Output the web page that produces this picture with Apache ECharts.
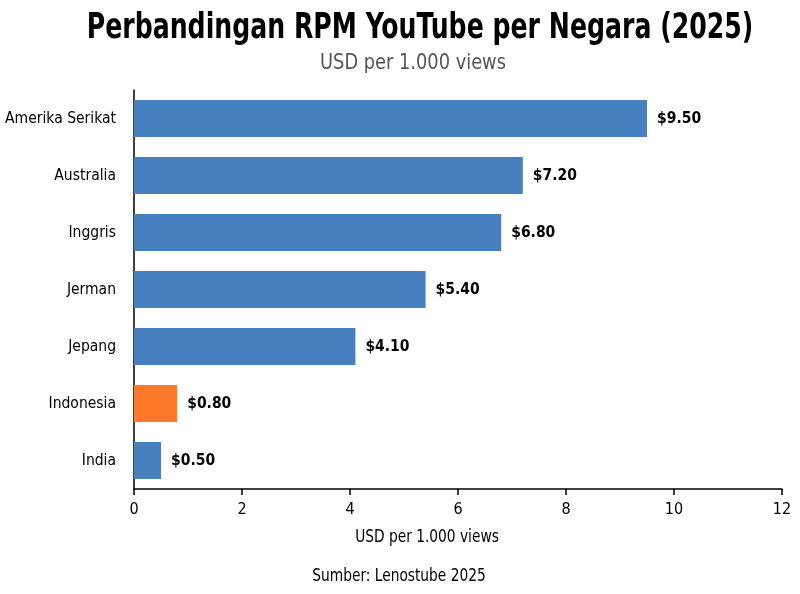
<!DOCTYPE html>
<html><head><meta charset="utf-8">
<script src="https://cdn.jsdelivr.net/npm/echarts@6/dist/echarts.min.js"></script>
<style>html,body{margin:0;padding:0;background:#fff}#c{width:800px;height:594px}</style>
</head><body><div id="c"></div>
<script>
const categories = ["Amerika Serikat","Australia","Inggris","Jerman","Jepang","Indonesia","India"];
const rpmValues = [9.5, 7.2, 6.8, 5.4, 4.1, 0.8, 0.5];
const highlight = "Indonesia";
const xTicks = [0, 2, 4, 6, 8, 10, 12];
const FONT = "'DejaVu Sans Condensed', 'Liberation Sans Narrow', sans-serif";

const chart = echarts.init(document.getElementById('c'), null, {renderer:'canvas'});
chart.setOption({
  backgroundColor: '#fff',
  animation: false,
  graphic: [
    {type: 'text', x: 420, y: 29, scaleX: 0.8, scaleY: 1,
     style: {text: 'Perbandingan RPM YouTube per Negara (2025)', x: 0, y: 0,
       align: 'center', verticalAlign: 'middle',
       font: "bold 35px " + FONT, fill: '#000'}},
    {type: 'text', x: 413, y: 63, scaleX: 0.9, scaleY: 1,
     style: {text: 'USD per 1.000 views', x: 0, y: 0, align: 'center', verticalAlign: 'middle',
       font: "normal 22px " + FONT, fill: '#555'}},
    {type: 'text', x: 399, y: 577, scaleX: 0.9, scaleY: 1,
     style: {text: 'Sumber: Lenostube 2025', x: 0, y: 0, align: 'center', verticalAlign: 'middle',
       font: "normal 17px " + FONT, fill: '#000'}},
    {type: 'text', x: 427, y: 538, scaleX: 0.9, scaleY: 1,
     style: {text: 'USD per 1.000 views', x: 0, y: 0, align: 'center', verticalAlign: 'middle',
       font: "normal 17px " + FONT, fill: '#000'}}
  ],
  grid: {left: 134, right: 18, top: 90, bottom: 105, outerBoundsMode: 'none', containLabel: false},
  xAxis: {
    type: 'value', min: xTicks[0], max: xTicks[xTicks.length-1], interval: 2,
    axisLine: {show: true, lineStyle: {color: '#000', width: 1.5}},
    axisTick: {show: true, length: 6, lineStyle: {color: '#000', width: 1.5}},
    axisLabel: {fontFamily: FONT, fontSize: 16, color: '#000', margin: 13},
    splitLine: {show: false}
  },
  yAxis: {
    type: 'category', data: categories, inverse: true,
    axisLine: {show: true, lineStyle: {color: '#000', width: 1.5}},
    axisTick: {show: false},
    axisLabel: {fontFamily: FONT, fontSize: 15.5, color: '#000', margin: 18}
  },
  series: [{
    type: 'bar', barWidth: '65%',
    data: rpmValues.map((v, i) => ({
      value: v,
      itemStyle: {color: categories[i] === highlight ? '#FE7A2A' : '#4680BE'}
    })),
    label: {show: true, position: 'right', distance: 10,
      formatter: p => '$' + p.value.toFixed(2),
      fontFamily: FONT, fontSize: 15.5, fontWeight: 'bold', color: '#000'}
  }]
});
</script></body></html>
